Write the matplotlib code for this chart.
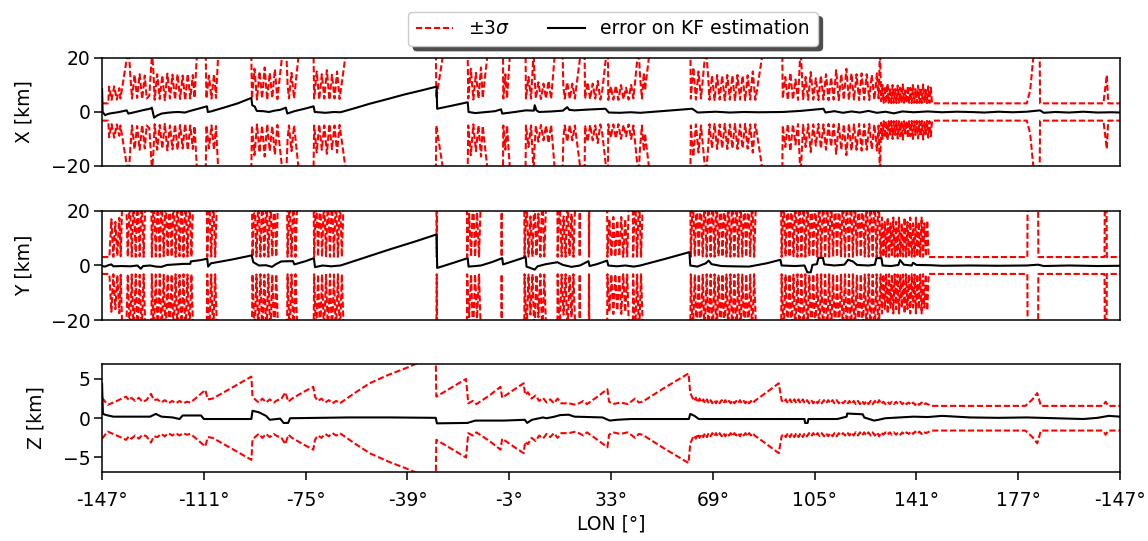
import numpy as np
import matplotlib.pyplot as plt

# longitude axis (unwrapped), tick labels as printed
lon_ticks = [-147, -111, -75, -39, -3, 33, 69, 105, 141, 177, 213]
lon_labels = ['-147°', '-111°', '-75°', '-39°', '-3°', '33°', '69°',
              '105°', '141°', '177°', '-147°']

# ---- X : 3 sigma envelope (lon, km) ----
x_sigma = [
    (-147.0, 3.2), (-144.8, 3.2),
    (-144.5, 9.4), (-143.6, 4.5), (-142.7, 9.5), (-141.8, 4.6), (-140.9, 8.8), (-140.5, 5.0),
    (-137.6, 24.0), (-137.0, 13.5),
    (-136.4, 5.0), (-135.5, 13.8), (-134.6, 5.2), (-133.7, 14.0), (-132.8, 4.8), (-131.9, 13.5),
    (-131.2, 5.0), (-130.3, 6.0), (-129.3, 22.0), (-128.8, 14.0),
    (-128.4, 4.5), (-127.5, 14.0), (-126.6, 4.8), (-125.7, 13.6), (-124.8, 4.4), (-123.9, 14.2),
    (-123.0, 5.0), (-122.1, 13.8), (-121.2, 4.6), (-120.3, 14.0), (-119.4, 4.8), (-118.5, 13.5),
    (-117.6, 4.4), (-116.7, 14.1), (-115.8, 5.0), (-114.9, 13.7), (-114.3, 5.2),
    (-113.3, 24.0), (-110.4, 26.0),
    (-110.1, 5.0), (-109.2, 13.5), (-108.3, 5.0), (-107.4, 14.0), (-106.7, 5.2),
    (-105.8, 24.0), (-94.3, 28.0),
    (-94.0, 5.0), (-93.1, 16.0), (-92.2, 4.6), (-91.3, 15.0), (-90.4, 5.0), (-89.5, 16.5),
    (-88.6, 4.5), (-87.7, 14.5), (-86.8, 5.2), (-85.9, 15.8), (-85.0, 4.8),
    (-83.0, 24.0), (-81.9, 24.0), (-81.4, 10.0),
    (-80.9, 5.0), (-80.0, 14.5), (-79.1, 5.0), (-77.2, 24.0), (-72.3, 28.0),
    (-72.0, 5.0), (-71.1, 15.0), (-70.2, 4.6), (-69.3, 14.0), (-68.4, 5.0), (-67.5, 15.5),
    (-66.6, 4.5), (-65.7, 13.8), (-64.8, 5.0), (-63.9, 15.0), (-63.0, 4.8),
    (-60.5, 24.0), (-29.0, 30.0),
    (-28.8, 5.0), (-26.3, 22.0), (-17.8, 28.0),
    (-17.5, 5.0), (-16.6, 16.0), (-15.7, 4.6), (-14.8, 14.5), (-13.9, 5.0), (-13.0, 16.5),
    (-12.4, 5.2), (-10.4, 24.0), (-5.3, 28.0),
    (-5.1, 5.0), (-4.4, 14.0), (-3.8, 5.0), (-2.6, 24.0), (2.7, 28.0),
    (2.9, 5.0), (3.8, 13.0), (4.7, 5.0), (5.6, 22.0), (6.0, 12.0),
    (6.4, 5.0), (7.3, 11.0), (8.2, 4.8), (9.1, 10.5), (10.0, 5.0), (10.9, 11.5), (11.8, 4.8),
    (13.3, 24.0), (15.8, 26.0), (16.1, 10.0),
    (16.6, 5.0), (17.5, 11.0), (18.4, 4.8), (19.3, 10.5), (20.2, 5.0),
    (22.5, 24.0), (23.6, 26.0),
    (23.8, 5.0), (24.7, 11.0), (25.6, 4.8), (26.5, 10.5), (27.4, 5.0), (28.3, 11.5),
    (29.2, 4.6), (29.9, 8.0), (31.6, 24.0), (31.9, 26.0),
    (32.0, 4.5), (32.9, 9.5), (33.8, 4.6), (34.7, 9.8), (35.6, 4.5), (36.5, 10.0), (37.4, 4.8),
    (38.3, 9.0), (39.2, 4.6), (40.1, 10.0), (40.9, 5.0),
    (42.7, 24.0), (43.2, 14.0), (43.9, 5.0), (44.6, 14.5), (45.0, 8.0), (46.8, 24.0),
    (61.0, 28.0),
    (61.2, 5.0), (62.1, 16.5), (63.0, 4.6), (63.9, 15.0), (64.8, 5.0), (66.5, 24.0), (67.3, 13.7),
    (67.8, 4.5), (68.7, 13.5), (69.6, 4.4), (70.5, 13.7), (71.4, 4.6), (72.3, 13.4),
    (73.2, 4.4), (74.1, 13.7), (75.0, 4.6), (75.9, 13.5), (76.8, 4.4), (77.7, 13.7),
    (78.6, 4.6), (79.5, 13.4), (80.4, 4.4), (81.3, 13.6), (82.2, 4.6), (83.1, 15.0),
    (84.0, 4.5), (84.6, 8.0), (86.9, 24.0), (93.5, 28.0),
    (93.7, 5.0), (94.6, 13.0), (95.5, 4.5), (96.4, 14.5), (97.3, 4.6), (98.2, 12.0),
    (99.1, 4.5), (100.0, 24.0), (100.9, 4.8), (101.8, 13.0), (102.7, 4.5), (103.6, 14.8),
    (104.5, 4.6), (105.4, 12.5), (106.3, 4.4), (107.2, 13.5), (108.1, 4.6), (109.0, 14.0),
    (109.9, 4.4), (110.8, 12.8), (111.7, 4.6), (112.6, 15.5), (113.5, 4.4), (114.4, 14.0),
    (115.3, 4.6), (116.2, 16.0), (117.1, 4.4), (118.0, 14.3), (118.9, 4.6), (119.8, 14.0),
    (120.7, 4.4), (121.6, 14.3), (122.5, 4.6), (123.4, 14.0), (124.3, 4.4), (125.2, 13.8),
    (126.1, 4.6), (127.0, 14.3), (127.6, 5.0), (128.1, 24.0), (128.5, 4.0),
    (128.95, 10.0), (129.4, 3.4), (129.85, 9.5), (130.3, 3.3), (130.75, 10.5), (131.2, 3.4),
    (131.65, 9.0), (132.1, 3.3), (132.55, 10.0), (133.0, 3.4), (133.45, 8.5), (133.9, 3.3),
    (134.35, 9.8), (134.8, 3.4), (135.25, 9.0), (135.7, 3.3), (136.15, 10.2), (136.6, 3.4),
    (137.05, 8.0), (137.5, 3.3), (137.95, 9.6), (138.4, 3.4), (138.85, 9.0), (139.3, 3.3),
    (139.75, 10.0), (140.2, 3.4), (140.65, 8.5), (141.1, 3.3), (141.55, 9.8), (142.0, 3.4),
    (142.45, 9.0), (142.9, 3.3), (143.35, 10.2), (143.8, 3.4), (144.25, 8.2), (144.7, 3.3),
    (145.15, 9.5), (145.6, 3.4), (146.05, 9.0), (146.5, 3.2),
    (180.0, 3.2), (181.2, 8.0), (182.3, 20.0), (184.5, 30.0), (184.7, 3.2),
    (207.1, 3.2), (208.3, 13.7), (208.8, 3.2), (213.0, 3.2),
]

# ---- X : estimation error ----
x_error = [
    (-147.0, 8.5), (-146.8, 0.0), (-145.9, -1.2), (-145.1, -0.8), (-144.0, -0.5), (-142.0, -0.2),
    (-140.0, 0.2), (-138.3, 0.6), (-137.7, -0.6), (-136.0, -0.2), (-134.0, 0.3), (-132.0, 0.8),
    (-130.0, 1.2), (-129.4, 1.6), (-128.6, -2.1), (-127.5, -1.3), (-126.0, -0.6), (-124.0, -0.3),
    (-122.0, -0.1), (-120.0, 0.0), (-117.7, -0.2), (-115.5, 0.5), (-113.0, 1.2), (-109.9, 2.1),
    (-109.6, 0.0), (-108.5, 0.2), (-104.0, 1.6), (-99.0, 3.2), (-94.2, 5.2), (-93.9, 2.5),
    (-93.0, 2.0), (-92.3, 0.4), (-90.0, 0.3), (-88.0, 0.0), (-86.0, 0.5), (-84.0, 0.8),
    (-82.0, 1.6), (-81.5, -0.6), (-79.0, 0.3), (-75.0, 1.3), (-72.2, 2.1), (-71.8, 0.0),
    (-68.0, -0.3), (-65.0, 0.0), (-62.7, -0.1), (-57.0, 1.6), (-52.2, 3.1), (-46.0, 4.8),
    (-40.4, 6.4), (-34.0, 8.0), (-28.7, 9.4), (-28.5, 1.2), (-23.0, 2.4), (-17.7, 3.6),
    (-17.4, 0.0), (-15.0, -0.4), (-12.0, -0.1), (-8.0, 0.3), (-5.9, 1.0), (-5.5, -0.6),
    (-1.0, 0.0), (2.8, 0.6), (5.7, 0.5), (6.0, 2.5), (6.6, 0.6), (7.5, 0.0), (12.0, 0.2),
    (16.0, 0.5), (17.5, 1.8), (18.2, 0.8), (20.0, 0.6), (25.0, 0.9), (31.0, 1.2), (32.2, -0.2),
    (36.0, -0.3), (40.0, -0.1), (43.3, -0.3), (52.0, 0.4), (61.7, 1.2), (63.6, -0.2),
    (70.0, 0.1), (75.0, -0.2), (80.0, 0.0), (85.0, -0.1), (93.7, 0.0), (100.0, 0.4),
    (108.1, 1.2), (108.8, -0.2), (112.0, 0.3), (115.0, -0.3), (118.0, 0.2), (121.0, -0.2),
    (124.0, 0.4), (127.0, -0.3), (130.0, 0.1), (133.0, -0.5), (136.0, 0.2), (140.0, -0.1),
    (145.0, 0.2), (150.0, -0.1), (155.0, 0.1), (160.0, 0.0), (165.0, -0.2), (170.0, 0.1),
    (175.0, -0.1), (180.0, 0.1), (184.7, 0.6), (186.0, -0.3), (190.0, 0.0), (195.0, -0.2),
    (200.0, 0.1), (205.0, -0.2), (210.0, -0.1), (213.0, -0.2),
]

# ---- Y : 3 sigma envelope ----
y_sigma = [
    (-147.0, 3.1), (-144.4, 3.1),
    (-143.7, 17.0), (-143.0, 3.2), (-142.3, 16.0), (-141.6, 3.5), (-140.9, 17.5), (-140.4, 3.4),
    (-139.8, 26.0), (-138.5, 26.0),
    (-137.9, 3.2), (-137.2, 26.0), (-136.5, 3.3), (-135.8, 26.0), (-135.1, 3.2), (-134.4, 26.0),
    (-133.7, 3.4), (-133.0, 26.0), (-132.3, 3.2), (-131.6, 26.0), (-129.6, 26.0),
    (-129.4, 3.2), (-128.7, 26.0), (-128.0, 3.3), (-127.3, 26.0), (-126.6, 3.2), (-125.9, 26.0),
    (-125.2, 3.4), (-124.5, 26.0), (-123.8, 3.2), (-123.1, 26.0), (-122.4, 3.3), (-121.7, 26.0),
    (-121.0, 3.2), (-120.3, 26.0), (-119.6, 3.4), (-118.9, 26.0), (-118.2, 3.2), (-117.5, 26.0),
    (-116.8, 3.3), (-116.1, 26.0), (-115.4, 3.2), (-114.7, 26.0), (-110.0, 26.0),
    (-109.8, 3.2), (-109.1, 26.0), (-108.4, 3.3), (-107.7, 26.0), (-107.0, 3.2), (-106.3, 26.0),
    (-94.0, 26.0),
    (-93.8, 3.2), (-93.1, 26.0), (-92.4, 3.3), (-91.7, 26.0), (-91.0, 3.2), (-90.3, 26.0),
    (-89.6, 3.4), (-88.9, 26.0), (-88.2, 3.2), (-87.5, 26.0), (-86.8, 3.3), (-86.1, 26.0),
    (-85.4, 3.2), (-84.7, 26.0), (-81.6, 26.0),
    (-81.4, 3.2), (-80.7, 26.0), (-80.0, 3.3), (-79.3, 26.0), (-78.6, 3.2), (-77.9, 26.0),
    (-72.2, 26.0),
    (-72.0, 3.2), (-71.3, 26.0), (-70.6, 3.3), (-69.9, 26.0), (-69.2, 3.2), (-68.5, 26.0),
    (-67.8, 3.4), (-67.1, 26.0), (-66.4, 3.2), (-65.7, 26.0), (-65.0, 3.3), (-64.3, 26.0),
    (-63.6, 3.2), (-62.9, 26.0), (-62.2, 3.2), (-61.5, 26.0),
    (-28.8, 26.0), (-28.65, 3.2), (-28.5, 26.0), (-18.0, 26.0),
    (-17.9, 3.2), (-17.2, 19.0), (-16.5, 3.3), (-15.8, 26.0), (-15.1, 3.2), (-14.4, 19.5),
    (-13.7, 3.3), (-13.0, 26.0),
    (-5.8, 26.0), (-5.7, 3.2), (-5.6, 26.0), (2.3, 26.0),
    (2.4, 3.2), (3.1, 26.0), (3.8, 3.3), (4.5, 18.0), (5.2, 3.2), (5.9, 26.0), (6.6, 3.4),
    (7.3, 19.0), (8.0, 3.2), (8.7, 26.0), (9.4, 3.3), (10.1, 26.0), (14.0, 26.0),
    (14.1, 3.2), (14.8, 26.0), (15.5, 3.3), (16.2, 18.0), (16.9, 3.2), (17.6, 26.0),
    (18.3, 3.4), (19.0, 19.0), (19.7, 3.2), (20.4, 26.0),
    (21.8, 26.0), (21.9, 3.2), (22.0, 26.0), (25.1, 26.0), (25.2, 3.2), (25.3, 26.0),
    (31.6, 26.0),
    (31.7, 3.2), (32.4, 17.0), (33.1, 3.3), (33.8, 17.8), (34.5, 3.2), (35.2, 16.5),
    (35.9, 3.4), (36.6, 17.8), (37.3, 3.2), (38.0, 17.0), (38.7, 3.3), (39.4, 26.0),
    (40.7, 26.0),
    (40.8, 3.2), (41.5, 26.0), (42.2, 3.3), (42.9, 26.0), (43.6, 3.2), (44.3, 26.0),
    (61.0, 26.0),
    (61.2, 3.2), (61.9, 26.0), (62.6, 3.3), (63.3, 26.0), (64.0, 3.2), (64.7, 26.0),
    (65.4, 3.4), (66.1, 26.0), (66.8, 3.2), (67.5, 26.0), (68.2, 3.3), (68.9, 26.0),
    (69.6, 3.2), (70.3, 26.0), (71.0, 3.4), (71.7, 26.0), (72.4, 3.2), (73.1, 26.0),
    (73.8, 3.3), (74.5, 26.0), (75.2, 3.2), (75.9, 26.0), (76.6, 3.4), (77.3, 26.0),
    (78.0, 3.2), (78.7, 26.0), (79.4, 3.3), (80.1, 26.0), (80.8, 3.2), (81.5, 26.0),
    (82.2, 3.4), (82.9, 26.0), (83.6, 3.2), (84.3, 26.0), (93.1, 26.0),
    (93.3, 3.2), (94.0, 26.0), (94.7, 3.3), (95.4, 26.0), (96.1, 3.2), (96.8, 26.0),
    (97.5, 3.4), (98.2, 26.0), (98.9, 3.2), (99.6, 26.0), (100.3, 3.3), (101.0, 26.0),
    (101.7, 3.2), (102.4, 26.0), (103.1, 3.4), (103.8, 26.0), (104.5, 3.2), (105.2, 26.0),
    (105.9, 3.3), (106.6, 26.0), (107.3, 3.2), (108.0, 26.0), (108.7, 3.4), (109.4, 26.0),
    (110.1, 3.2), (110.8, 26.0), (111.5, 3.3), (112.2, 26.0), (112.9, 3.2), (113.6, 26.0),
    (114.3, 3.4), (115.0, 26.0), (115.7, 3.2), (116.4, 26.0), (117.1, 3.3), (117.8, 26.0),
    (118.5, 3.2), (119.2, 26.0), (119.9, 3.4), (120.6, 26.0), (121.3, 3.2), (122.0, 26.0),
    (122.7, 3.3), (123.4, 26.0), (124.1, 3.2), (124.8, 26.0), (125.5, 3.4), (126.2, 26.0),
    (126.9, 3.2), (127.6, 26.0),
    (128.3, 3.2), (128.8, 17.6), (129.3, 3.2), (129.8, 16.0), (130.3, 3.3), (130.8, 17.6),
    (131.3, 3.2), (131.8, 15.5), (132.3, 3.3), (132.8, 17.6), (133.3, 3.2), (133.8, 16.0),
    (134.3, 3.3), (134.8, 17.6), (135.3, 3.2), (135.8, 15.5), (136.3, 3.3), (136.8, 17.6),
    (137.3, 3.2), (137.8, 16.0), (138.3, 3.3), (138.8, 17.6), (139.3, 3.2), (139.8, 15.5),
    (140.3, 3.3), (140.8, 17.6), (141.3, 3.2), (141.8, 16.0), (142.3, 3.3), (142.8, 17.6),
    (143.3, 3.2), (143.8, 15.5), (144.3, 3.3), (144.8, 16.5), (145.3, 3.1),
    (180.2, 3.1), (180.3, 26.0), (184.0, 26.0), (184.1, 3.1),
    (207.5, 3.1), (207.6, 26.0), (208.2, 26.0), (208.3, 3.1), (213.0, 3.1),
]

# ---- Y : estimation error ----
y_error = [
    (-147.0, -0.2), (-146.0, -0.4), (-144.5, 0.2), (-143.7, 0.4), (-143.0, -0.3), (-140.0, -0.2),
    (-137.0, -0.3), (-134.5, 0.0), (-133.3, -1.2), (-132.5, -0.2), (-130.0, 0.0), (-128.0, -0.4),
    (-126.0, -0.5), (-124.0, 0.2), (-121.0, 0.4), (-118.0, 0.6), (-115.8, 0.6), (-115.6, 1.5),
    (-112.0, 2.0), (-109.8, 2.5), (-109.5, -0.4), (-108.5, 0.8), (-101.0, 2.2), (-94.1, 3.7),
    (-93.5, 1.2), (-91.5, 0.0), (-89.0, 0.1), (-86.9, -0.5), (-85.5, 0.5), (-83.6, 1.5),
    (-79.5, 1.6), (-79.0, 0.4), (-75.0, 1.6), (-72.1, 2.7), (-71.7, -0.6), (-69.0, 0.0),
    (-66.0, -0.3), (-62.7, 0.0), (-55.0, 2.6), (-45.0, 6.0), (-36.0, 8.9), (-28.7, 11.4),
    (-28.5, -0.9), (-23.0, 0.9), (-17.7, 2.7), (-17.4, -0.4), (-15.0, -0.2), (-13.0, 0.0),
    (-9.0, 1.3), (-5.5, 2.7), (-5.2, 0.4), (-1.0, 1.8), (2.8, 3.1), (3.1, -0.4), (6.0, -1.5),
    (7.0, -0.3), (10.0, 0.5), (14.0, 1.2), (16.0, 0.2), (19.0, -0.5), (22.0, 0.0), (25.0, 1.6),
    (25.4, -0.2), (28.0, 0.5), (31.6, 1.8), (32.0, 0.0), (35.0, -0.3), (38.0, 0.0), (41.0, -0.4),
    (43.3, 0.0), (52.0, 2.4), (60.7, 4.9), (61.0, 0.0), (63.5, -0.4), (66.5, 0.8), (67.5, 1.8),
    (68.5, 0.5), (72.0, -0.2), (76.0, -0.3), (81.8, -0.4), (88.0, 0.8), (92.9, 2.1), (93.3, 0.0),
    (98.0, -0.2), (101.4, 0.0), (102.4, -2.5), (103.6, -2.5), (104.2, 0.2), (105.8, 0.5),
    (106.3, 2.8), (107.9, 2.8), (108.4, 0.4), (112.0, 0.0), (115.5, 0.3), (116.8, 2.1),
    (118.5, 1.5), (120.0, 0.2), (124.0, 0.0), (126.3, 0.3), (126.8, 2.7), (128.6, 2.7),
    (129.0, 0.0), (132.0, -0.2), (134.6, 0.2), (135.2, 2.0), (136.5, 0.3), (139.3, 0.0),
    (139.8, 1.0), (141.0, 0.2), (146.0, 0.1), (150.0, -0.1), (160.0, 0.0), (170.0, -0.1),
    (180.0, 0.0), (184.0, 0.3), (186.0, -0.2), (195.0, 0.0), (205.0, -0.2), (213.0, -0.1),
]

# ---- Z : 3 sigma envelope ----
z_sigma = [
    (-147.0, 2.6), (-145.0, 1.7), (-143.7, 1.9), (-141.8, 2.2), (-138.5, 2.75), (-137.5, 2.3),
    (-136.6, 2.6), (-135.3, 2.2), (-134.0, 2.6), (-132.7, 2.1), (-131.3, 2.3), (-129.7, 3.1),
    (-128.7, 2.3), (-127.4, 2.4), (-126.1, 2.0), (-124.8, 2.3), (-123.5, 1.9), (-122.2, 2.2),
    (-120.9, 1.9), (-119.6, 2.2), (-118.3, 1.9), (-117.0, 2.1), (-115.7, 2.0), (-113.7, 2.6),
    (-111.8, 3.2), (-110.5, 3.6), (-109.6, 2.4), (-107.9, 2.5), (-101.0, 3.9), (-94.2, 5.3),
    (-93.8, 2.75), (-92.9, 2.4), (-91.6, 2.0), (-90.3, 2.5), (-89.0, 2.0), (-87.7, 2.4),
    (-86.3, 2.0), (-85.0, 2.3), (-83.7, 2.4), (-82.2, 3.3), (-81.1, 2.1), (-79.8, 2.5),
    (-76.0, 3.3), (-72.3, 4.0), (-71.7, 2.75), (-70.7, 2.2), (-69.4, 2.5), (-68.1, 2.0),
    (-66.8, 2.3), (-65.5, 1.9), (-64.2, 2.2), (-62.9, 1.9), (-57.7, 3.2), (-52.4, 4.45),
    (-45.9, 5.5), (-39.4, 6.4), (-35.5, 7.0), (-29.0, 7.9), (-28.8, 2.75), (-23.0, 4.0),
    (-18.3, 5.0), (-17.5, 1.9), (-15.9, 2.2), (-14.6, 1.8), (-10.0, 2.9), (-6.1, 4.0),
    (-5.5, 2.6), (-1.5, 3.6), (2.1, 4.45), (2.6, 3.0), (3.6, 3.3), (4.9, 2.5), (6.3, 2.9),
    (7.6, 2.2), (8.9, 2.6), (10.2, 2.0), (11.5, 2.4), (12.8, 1.9), (14.1, 2.5), (15.4, 1.9),
    (18.0, 1.9), (20.6, 1.7), (23.2, 2.2), (24.5, 1.8), (28.0, 2.7), (31.7, 3.7), (32.3, 2.1),
    (33.7, 1.8), (36.3, 2.0), (38.9, 1.8), (41.5, 2.5), (42.8, 2.0), (44.1, 2.1), (52.0, 3.9),
    (60.4, 5.7), (61.0, 3.2), (62.3, 2.2), (63.0, 2.6), (63.6, 2.0), (64.3, 2.5), (64.9, 2.0),
    (65.6, 2.4), (66.2, 1.9), (66.9, 2.4), (67.5, 1.9), (68.2, 2.3), (68.8, 1.9), (69.5, 2.3),
    (70.1, 1.9), (70.8, 2.3), (71.4, 1.9), (72.1, 2.3), (72.7, 1.9), (73.4, 2.3), (74.0, 1.9),
    (74.7, 2.2), (75.3, 1.9), (76.0, 2.3), (76.6, 1.9), (77.3, 2.2), (77.9, 1.9), (78.6, 2.3),
    (79.2, 1.9), (79.9, 2.2), (80.5, 1.9), (81.2, 2.3), (81.8, 1.9), (82.5, 2.2), (83.1, 1.9),
    (83.8, 2.2), (88.0, 3.3), (92.3, 4.45), (93.3, 2.3),
    (94.0, 2.0), (94.8, 2.4), (95.5, 1.9), (96.3, 2.4), (97.0, 1.9), (97.8, 2.4), (98.5, 1.9),
    (99.3, 2.4), (100.0, 1.9), (100.8, 2.4), (101.5, 1.9), (102.3, 2.3), (103.0, 1.9),
    (103.8, 2.3), (104.5, 1.9), (105.3, 2.3), (106.0, 1.9), (106.8, 2.3), (107.5, 1.9),
    (108.3, 2.3), (109.0, 1.9), (109.8, 2.3), (110.5, 1.9), (111.3, 2.3), (112.0, 1.9),
    (112.8, 2.3), (113.5, 1.9), (114.3, 2.2), (115.0, 1.9), (115.8, 2.2), (116.5, 1.8),
    (117.3, 2.2), (118.0, 1.8), (118.8, 2.2), (119.5, 1.8), (120.3, 2.2), (121.0, 1.8),
    (121.8, 2.2), (122.5, 1.8), (123.3, 2.2), (124.0, 1.8), (124.8, 2.2), (125.5, 1.8),
    (126.3, 2.2), (127.0, 1.8), (127.8, 2.3), (128.5, 1.8), (129.3, 2.1), (130.0, 1.8),
    (130.8, 2.1), (131.5, 1.8), (132.3, 2.1), (133.0, 1.8), (133.8, 2.1), (134.5, 1.8),
    (135.3, 2.1), (136.0, 1.8), (136.8, 2.1), (137.5, 1.8), (138.3, 2.0), (139.0, 1.7),
    (139.8, 2.0), (140.5, 1.7), (141.3, 2.0), (142.0, 1.7), (142.8, 2.0), (143.5, 1.7),
    (144.3, 1.9), (146.3, 1.57), (179.5, 1.57), (182.0, 2.4), (183.7, 3.2), (185.0, 1.57),
    (206.9, 1.57), (207.9, 2.1), (208.8, 1.57), (213.0, 1.57),
]

# ---- Z : estimation error ----
z_error = [
    (-147.0, 4.4), (-146.7, 0.55), (-145.5, 0.4), (-143.0, 0.2), (-135.0, 0.2), (-130.0, 0.2),
    (-128.0, 0.55), (-126.0, 0.2), (-122.0, 0.1), (-119.6, -0.1), (-118.5, 0.35), (-112.0, 0.35),
    (-111.0, -0.1), (-100.0, -0.1), (-94.2, -0.1), (-93.8, 0.95), (-91.5, 0.75), (-89.0, 0.3),
    (-87.7, -0.2), (-84.0, -0.05), (-82.8, -0.6), (-81.2, -0.6), (-80.5, 0.0), (-70.0, 0.05),
    (-60.0, 0.1), (-45.0, 0.1), (-29.0, 0.05), (-28.6, -0.65), (-17.8, -0.6), (-15.0, -0.3),
    (-5.0, -0.3), (2.5, -0.2), (3.3, -0.6), (5.0, -0.2), (8.9, 0.1), (10.2, 0.0), (13.0, 0.2),
    (15.0, 0.4), (18.0, 0.45), (20.0, 0.2), (30.0, 0.1), (32.5, -0.3), (35.0, -0.2),
    (40.0, -0.1), (50.0, -0.1), (60.5, -0.1), (61.0, 0.55), (62.5, 0.3), (64.0, -0.1),
    (75.0, -0.1), (90.0, -0.1), (101.4, -0.1), (101.6, -0.6), (102.5, -0.6), (102.8, -0.1),
    (113.0, -0.1), (116.3, 0.2), (116.5, 0.6), (122.0, 0.5), (122.5, 0.1), (126.0, -0.3),
    (127.5, -0.2), (130.0, 0.0), (135.0, 0.1), (140.0, 0.2), (145.0, 0.15), (150.0, 0.3),
    (160.0, 0.1), (170.0, 0.05), (180.0, 0.1), (190.0, 0.0), (200.0, -0.1), (205.0, 0.05),
    (209.0, 0.3), (213.0, 0.2),
]

panels = [
    ('X [km]', x_sigma, x_error, (-20, 20), [-20, 0, 20]),
    ('Y [km]', y_sigma, y_error, (-20, 20), [-20, 0, 20]),
    ('Z [km]', z_sigma, z_error, (-6.85, 6.9), [-5, 0, 5]),
]

plt.rcParams['font.size'] = 13.5
fig = plt.figure(figsize=(11.48, 5.41), dpi=100)
boxes = [[0.0889, 0.6932, 0.8868, 0.1996],
         [0.0889, 0.4085, 0.8868, 0.2015],
         [0.0889, 0.1275, 0.8868, 0.1996]]

dash = (0, (3.0, 1.3))
for i, (lab, sig, err, lim, yt) in enumerate(panels):
    ax = fig.add_axes(boxes[i])
    slon, s = np.array(sig).T
    elon, e = np.array(err).T
    l1, = ax.plot(slon, s, color='red', ls=dash, lw=1.5)
    ax.plot(slon, -s, color='red', ls=dash, lw=1.5)
    l2, = ax.plot(elon, e, color='black', lw=1.5)
    ax.set_xlim(-147, 213)
    ax.set_ylim(lim)
    ax.set_yticks(yt)
    ax.set_ylabel(lab, labelpad=13)
    ax.tick_params(axis='y', length=5.5, width=1.1, pad=2.6)
    for sp in ax.spines.values():
        sp.set_linewidth(1.1)
    if i < 2:
        ax.set_xticks([])
    else:
        ax.set_xticks(lon_ticks)
        ax.set_xticklabels(lon_labels)
        ax.tick_params(axis='x', length=5.5, width=1.1, pad=8.5)
        ax.set_xlabel('LON [°]', labelpad=3)
    if i == 0:
        handles = [l1, l2]

fig.legend(handles, [r'$\pm3\sigma$', 'error on KF estimation'],
           loc='lower center', bbox_to_anchor=(0.534, 0.898), ncol=2,
           shadow={'ox': 3.5, 'oy': -3.5, 'color': '0.3', 'alpha': 1.0},
           fontsize=13.5, handlelength=2.0, columnspacing=2.0)

fig.savefig('out.png', dpi=100)
